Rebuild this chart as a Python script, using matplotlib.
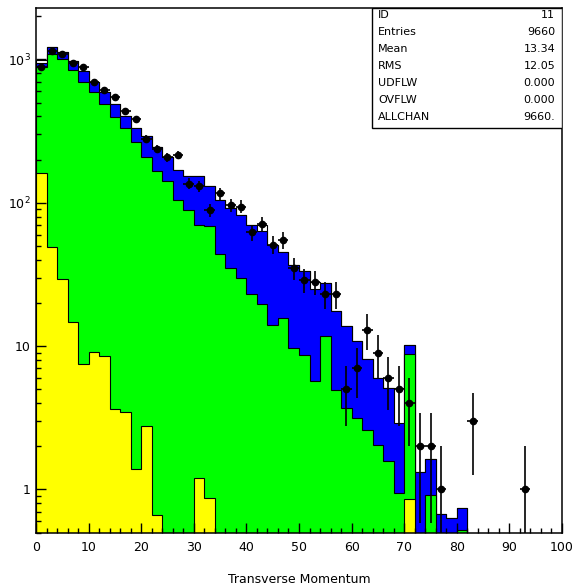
import matplotlib
matplotlib.use('Agg')
import matplotlib.pyplot as plt
from matplotlib.ticker import FixedLocator, MultipleLocator, LogLocator, NullFormatter
from matplotlib.patches import Rectangle
import numpy as np

# 50 bins of width 2 between 0 and 100
edges = np.arange(0, 102, 2)
centers = 0.5 * (edges[:-1] + edges[1:])

# measured counts per bin
data = [891, 1152, 1092, 950, 883, 693, 613, 545, 433, 383,
        278, 238, 207, 216, 136, 131, 89, 116, 96, 94,
        62, 71, 51, 55, 35, 29, 28, 23, 23, 5,
        7, 13, 9, 6, 5, 4, 2, 2, 1, 0,
        0, 3, 0, 0, 0, 0, 1, 0, 0, 0]

# simulated contributions (overlaid, largest first)
h_total = [992, 1216, 1123, 981, 836, 700, 591, 490, 404, 332,
           290, 246, 209, 170, 153, 153, 130, 105, 92, 82.5,
           70.3, 70.3, 51, 45.5, 37, 33.2, 27.8, 27.6, 17.5, 13.9,
           10.8, 8.1, 6.0, 5.1, 5.1, 10.2, 1.33, 1.62, 0.67, 0.635,
           0.746, 0, 0, 0, 0, 0, 0, 0, 0, 0]
h_blue = [950, 1216, 1123, 981, 836, 700, 591, 490, 404, 332,
          290, 246, 209, 170, 153, 153, 130, 105, 92, 82.5,
          70.3, 63.1, 51, 45.5, 37, 33.2, 25.0, 27.6, 17.5, 13.9,
          10.8, 8.1, 6.0, 5.1, 2.92, 10.2, 1.33, 1.62, 0.67, 0.635,
          0.746, 0, 0, 0, 0, 0, 0, 0, 0, 0]
h_green = [891, 1092, 1003, 845, 700, 591, 490, 399, 332, 267,
           210, 167, 141, 105, 89.4, 70.3, 69.1, 44.1, 35.1, 29.9,
           23.2, 19.5, 14.1, 15.7, 9.7, 8.7, 5.7, 11.8, 4.97, 3.69,
           3.16, 2.60, 2.03, 1.57, 0.95, 8.87, 0, 0.92, 0, 0,
           0.52, 0, 0, 0, 0, 0, 0, 0, 0, 0]
h_yellow = [161, 49.1, 29.5, 14.7, 7.55, 9.1, 8.5, 3.65, 3.46, 1.38,
            2.79, 0.66, 0, 0, 0, 1.21, 0.87, 0, 0, 0,
            0, 0, 0, 0, 0, 0, 0, 0, 0, 0,
            0, 0, 0, 0, 0, 0.86, 0, 0, 0, 0,
            0, 0, 0, 0, 0, 0, 0, 0, 0, 0]

stat_names = ['ID', 'Entries', 'Mean', 'RMS', 'UDFLW', 'OVFLW', 'ALLCHAN']
stat_values = ['11', '9660', '13.34', '12.05', '0.000', '0.000', '9660.']

ytick_vals = [1, 10, 100, 1000]
ytick_labels = ['1', '10', '10$^{2}$', '10$^{3}$']
xtick_vals = [0, 10, 20, 30, 40, 50, 60, 70, 80, 90, 100]

plt.rcParams['font.family'] = 'DejaVu Sans'

fig = plt.figure(figsize=(5.74, 5.87), dpi=100)
ax = fig.add_axes([0.0627, 0.0928, 0.9164, 0.8944])
ax.set_yscale('log')

floor = 1e-2
for vals, col in [(h_total, 'white'), (h_blue, '#0000ff'),
                  (h_green, '#00ff00'), (h_yellow, '#ffff00')]:
    v = np.clip(np.array(vals, dtype=float), floor, None)
    ax.stairs(v, edges, baseline=floor, fill=True, facecolor=col,
              edgecolor='black', linewidth=0.8)

d = np.array(data, dtype=float)
m = d > 0
err = np.sqrt(d[m])
ax.errorbar(centers[m], d[m], xerr=1.0,
            yerr=[np.minimum(err, d[m] - 1e-3), err],
            fmt='o', color='black', ms=4.5, elinewidth=1.2, capsize=0)

ax.set_xlim(0, 100)
ax.set_ylim(0.5, 2300)

ax.xaxis.set_major_locator(FixedLocator(xtick_vals))
ax.xaxis.set_minor_locator(MultipleLocator(2))
ax.yaxis.set_major_locator(FixedLocator(ytick_vals))
ax.set_yticklabels(ytick_labels)
ax.yaxis.set_minor_locator(LogLocator(base=10, subs=np.arange(2, 10)))
ax.yaxis.set_minor_formatter(NullFormatter())
ax.tick_params(which='both', direction='in', top=False, right=False, labelsize=9, width=1)
ax.tick_params(which='major', length=7.2)
ax.tick_params(which='minor', length=3.6)
ax.tick_params(axis='x', pad=6)
ax.tick_params(axis='y', pad=4)
for s in ax.spines.values():
    s.set_linewidth(1.1)

ax.set_xlabel('Transverse Momentum', fontsize=9, labelpad=14)

# statistics box
ax.add_patch(Rectangle((0.639, 0.7705), 0.361, 0.2295, transform=ax.transAxes,
                       facecolor='white', edgecolor='black', linewidth=1, zorder=5))
y0, dy = 0.986, 0.0325
for i, (name, val) in enumerate(zip(stat_names, stat_values)):
    y = y0 - i * dy
    ax.text(0.650, y, name, transform=ax.transAxes, fontsize=8,
            va='center', ha='left', zorder=6)
    ax.text(0.987, y, val, transform=ax.transAxes, fontsize=8,
            va='center', ha='right', zorder=6)

plt.savefig('out.png', dpi=100)
